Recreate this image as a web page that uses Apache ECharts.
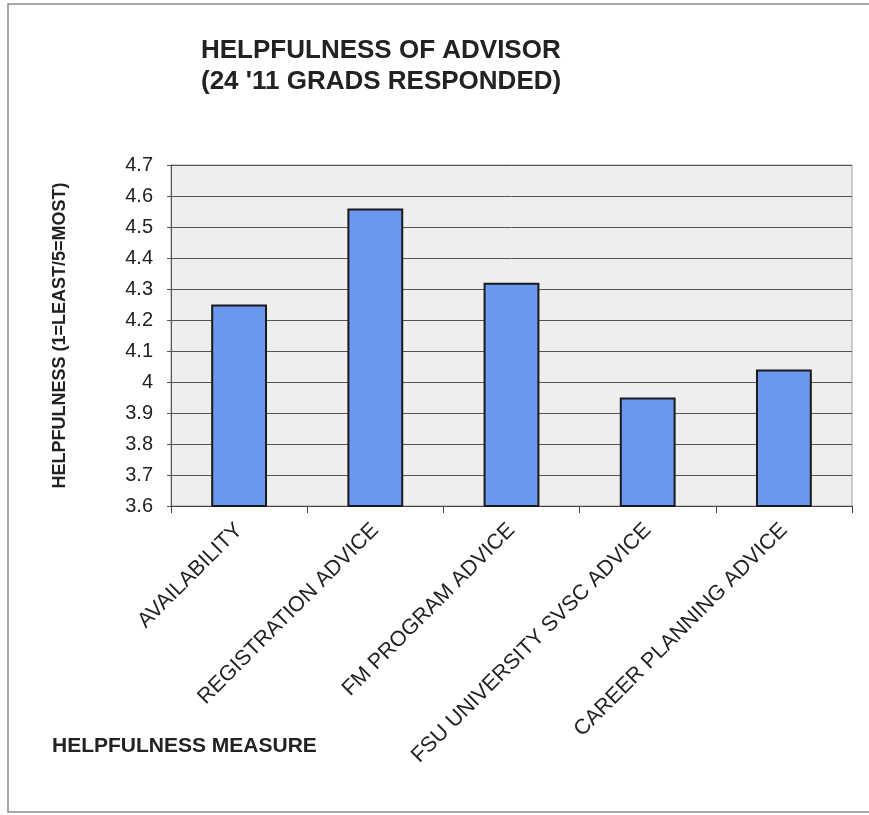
<!DOCTYPE html>
<html>
<head>
<meta charset="utf-8">
<script src="https://cdn.jsdelivr.net/npm/echarts@6/dist/echarts.min.js"></script>
<style>
  html, body { margin: 0; padding: 0; background: #ffffff; }
  #chart { width: 869px; height: 815px; }
</style>
</head>
<body>
<div id="chart"></div>
<script>
// Advisor helpfulness ratings by measure
const categories = [
  'AVAILABILITY',
  'REGISTRATION ADVICE',
  'FM PROGRAM ADVICE',
  'FSU UNIVERSITY SVSC ADVICE',
  'CAREER PLANNING ADVICE'
];
const ratings = [4.25, 4.56, 4.32, 3.95, 4.04];

const titleLines = ['HELPFULNESS OF ADVISOR', "(24 '11 GRADS RESPONDED)"];
const yAxisTitle = 'HELPFULNESS (1=LEAST/5=MOST)';
const xAxisTitle = 'HELPFULNESS MEASURE';

const chart = echarts.init(document.getElementById('chart'), null, { renderer: 'canvas' });

const font = 'Arial, "Liberation Sans", sans-serif';

chart.setOption({
  backgroundColor: '#ffffff',
  animation: false,
  title: [
    {
      text: titleLines.join('\n'),
      left: 196,
      top: 30,
      padding: 5,
      textStyle: {
        fontFamily: font,
        fontSize: 26,
        fontWeight: 'bold',
        color: '#222222',
        lineHeight: 31
      }
    },
    {
      text: xAxisTitle,
      left: 47,
      top: 731,
      padding: 5,
      textStyle: {
        fontFamily: font,
        fontSize: 21,
        fontWeight: 'bold',
        color: '#222222'
      }
    }
  ],
  graphic: [
    {
      type: 'rect',
      shape: { x: 8, y: 4, width: 880, height: 808 },
      style: { fill: 'none', stroke: '#8a8a8a', lineWidth: 1.5 },
      silent: true
    }
  ],
  grid: {
    left: 171,
    right: 17,
    top: 165,
    bottom: 815 - 506,
    show: true,
    backgroundColor: '#eeeeee',
    borderColor: '#a0a0a0',
    borderWidth: 1
  },
  xAxis: {
    type: 'category',
    data: categories,
    boundaryGap: true,
    axisLine: { show: true, lineStyle: { color: '#444444', width: 1 } },
    axisTick: { show: true, length: 7, alignWithLabel: false, lineStyle: { color: '#444444' } },
    axisLabel: {
      interval: 0,
      rotate: 45,
      margin: 21,
      fontFamily: font,
      fontSize: 21.5,
      color: '#222222'
    },
    splitLine: { show: false }
  },
  yAxis: {
    type: 'value',
    min: 3.6,
    max: 4.7,
    interval: 0.1,
    name: yAxisTitle,
    nameLocation: 'middle',
    nameGap: 102,
    nameTextStyle: {
      fontFamily: font,
      fontSize: 18,
      fontWeight: 'bold',
      color: '#222222'
    },
    axisLine: { show: true, lineStyle: { color: '#555555', width: 1 } },
    axisTick: { show: true, length: 4, lineStyle: { color: '#555555' } },
    axisLabel: {
      margin: 18,
      fontFamily: font,
      fontSize: 20,
      color: '#222222',
      formatter: function (v) { return String(Math.round(v * 10) / 10); }
    },
    splitLine: { show: true, lineStyle: { color: '#555555', width: 1 } }
  },
  series: [
    {
      type: 'bar',
      data: ratings,
      barWidth: '41%',
      itemStyle: {
        color: '#6b97ee',
        borderColor: '#1a1a1a',
        borderWidth: 2
      }
    }
  ]
});
</script>
</body>
</html>
